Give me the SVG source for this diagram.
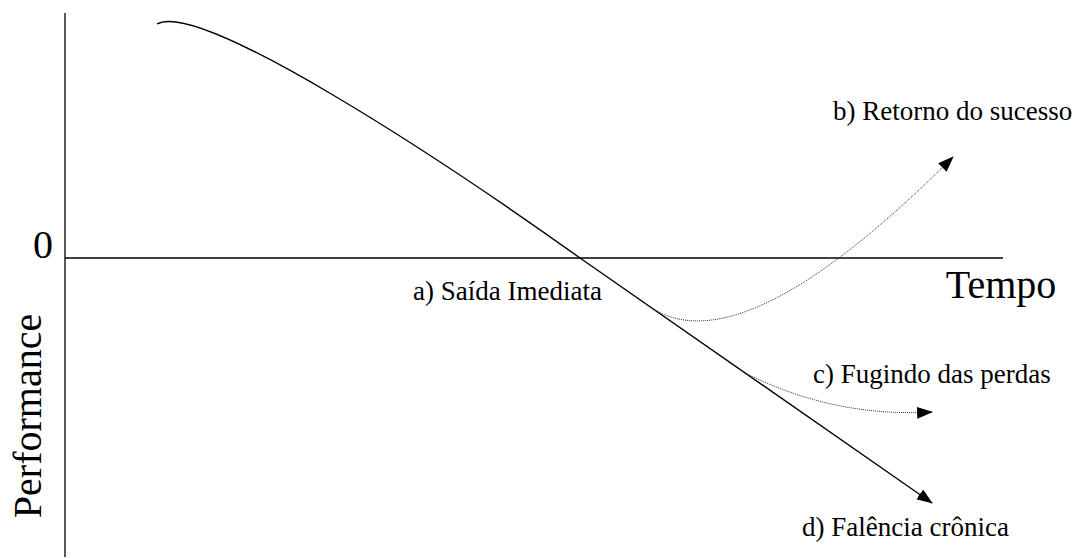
<svg xmlns="http://www.w3.org/2000/svg" width="1083" height="558" viewBox="0 0 1083 558">
<style>
  .t { font-family: "Times New Roman", "Liberation Serif", serif; fill: #000; }
  .lbl { font-size: 27px; }
  .big { font-size: 40px; }
  .axis { stroke: #000; stroke-width: 1.3; fill: none; }
  .solid { stroke: #000; stroke-width: 1.4; fill: none; }
  .dot { stroke: #333; stroke-width: 1; stroke-dasharray: 1 1; fill: none; }
</style>
<defs>
  <marker id="arr" viewBox="0 0 16 12" refX="15" refY="6" markerWidth="16" markerHeight="12" markerUnits="userSpaceOnUse" orient="auto">
    <path d="M0,0 L16,6 L0,12 z" fill="#000" stroke="none"/>
  </marker>
</defs>
<rect width="1083" height="558" fill="#fff"/>
<g id="axes">
  <line class="axis" x1="65" y1="13" x2="65" y2="557"/>
  <line class="axis" x1="65" y1="258" x2="1003" y2="258"/>
  <text class="t big" x="53" y="258" text-anchor="end">0</text>
  <text class="t big" x="1001" y="298" text-anchor="middle">Tempo</text>
  <text class="t big" transform="translate(41,416) rotate(-90)" text-anchor="middle">Performance</text>
</g>
<g id="connectors">
  <path id="main" class="solid" d="M157,24 C200,0 440,158 580,258 L932,503" marker-end="url(#arr)"/>
  <path id="curve-b" class="dot" d="M645,303 C710,355 820,290 953,157" marker-end="url(#arr)"/>
  <path id="curve-c" class="dot" d="M747,374 C800,400 860,416 932,412" marker-end="url(#arr)"/>
</g>
<g id="label-a"><text class="t lbl" x="413" y="300">a) Saída Imediata</text></g>
<g id="label-b"><text class="t lbl" x="833" y="120">b) Retorno do sucesso</text></g>
<g id="label-c"><text class="t lbl" x="813" y="383">c) Fugindo das perdas</text></g>
<g id="label-d"><text class="t lbl" x="802" y="536">d) Falência crônica</text></g>
</svg>
